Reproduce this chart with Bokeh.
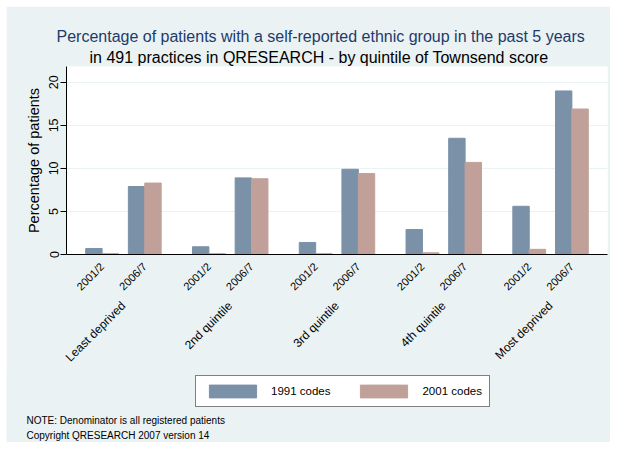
import math
from bokeh.plotting import figure
from bokeh.layouts import column
from bokeh.models import (FactorRange, Range1d, FixedTicker, Legend, LegendItem,
                          Title, Label, ColumnDataSource)
from bokeh.transform import dodge
from bokeh.embed import file_html
from bokeh.resources import INLINE

# ---- data ----
quintiles = ["Least deprived", "2nd quintile", "3rd quintile", "4th quintile", "Most deprived"]
years = ["2001/2", "2006/7"]
codes_1991 = [0.7, 7.9, 0.9, 8.9, 1.4, 9.9, 2.9, 13.5, 5.6, 19.0]
codes_2001 = [0.1, 8.3, 0.1, 8.8, 0.1, 9.4, 0.2, 10.7, 0.6, 16.9]
series_names = ["1991 codes", "2001 codes"]
y_ticks = [0, 5, 10, 15, 20]
title_1 = "Percentage of patients with a self-reported ethnic group in the past 5 years"
title_2 = "in 491 practices in QRESEARCH - by quintile of Townsend score"
y_label = "Percentage of patients"
note_1 = "NOTE: Denominator is all registered patients"
note_2 = "Copyright QRESEARCH 2007 version 14"

factors = [(q, y) for q in quintiles for y in years]
src = ColumnDataSource(dict(x=factors, c1991=codes_1991, c2001=codes_2001))

FONT = "Liberation Sans"
BG = "#eaf2f3"
BLUE = "#7b91a7"
PINK = "#c0a099"

xr = FactorRange(*factors, factor_padding=0.3, group_padding=0.955,
                 range_padding=0.586, range_padding_units="absolute")

p = figure(width=604, height=366, x_range=xr, y_range=Range1d(0, 21.84),
           output_backend="svg", toolbar_location=None,
           min_border_left=60, min_border_right=3, min_border_top=60, min_border_bottom=116,
           background_fill_color="white", border_fill_color=BG, outline_line_color=None)

r1 = p.vbar(x=dodge("x", -0.25, range=p.x_range), top="c1991", width=0.5, source=src,
            fill_color=BLUE, line_color=BLUE)
r2 = p.vbar(x=dodge("x", 0.25, range=p.x_range), top="c2001", width=0.5, source=src,
            fill_color=PINK, line_color=PINK)

# titles
t2 = Title(text=title_2, align="left", offset=23, text_font=FONT, text_font_size="16px",
           text_font_style="normal", text_color="black", standoff=2)
t1 = Title(text=title_1, align="left", offset=-10, text_font=FONT, text_font_size="16px",
           text_font_style="normal", text_color="#1f3a6b", standoff=2)
p.add_layout(t2, "above")
p.add_layout(t1, "above")

# grid
p.xgrid.grid_line_color = None
p.ygrid.ticker = FixedTicker(ticks=y_ticks)
p.ygrid.grid_line_color = BG
p.ygrid.grid_line_width = 1

# y axis
ya = p.yaxis[0]
ya.ticker = FixedTicker(ticks=y_ticks)
ya.minor_tick_line_color = None
ya.major_tick_in = 0
ya.major_tick_out = 6
ya.major_label_orientation = "vertical"
ya.major_label_standoff = 2
ya.major_label_text_font = FONT
ya.major_label_text_font_size = "12.5px"
ya.major_label_text_color = "black"
ya.axis_label = y_label
ya.axis_label_text_font = FONT
ya.axis_label_text_font_size = "14.5px"
ya.axis_label_text_font_style = "normal"
ya.axis_label_text_color = "black"
ya.axis_label_standoff = 5
ya.axis_line_color = "black"
ya.major_tick_line_color = "black"

# x axis
xa = p.xaxis[0]
xa.major_tick_line_color = None
xa.minor_tick_line_color = None
xa.axis_line_color = "black"
xa.separator_line_color = None
xa.major_label_orientation = math.pi / 4
xa.group_label_orientation = math.pi / 4
xa.major_label_text_font = FONT
xa.major_label_text_font_size = "11px"
xa.major_label_text_color = "black"
xa.major_label_standoff = 4
xa.group_text_font = FONT
xa.group_text_font_size = "12px"
xa.group_text_font_style = "normal"
xa.group_text_color = "black"

# ---- bottom strip: legend and notes ----
p2 = figure(width=604, height=71, x_range=Range1d(0, 604), y_range=Range1d(0, 71),
            output_backend="svg", toolbar_location=None,
            x_axis_location=None, y_axis_location=None,
            min_border=0, min_border_left=0, min_border_right=0, min_border_top=0,
            min_border_bottom=0, background_fill_color=BG, border_fill_color=BG,
            outline_line_color=None)
p2.grid.visible = False
p2.styles = {"margin-top": "-1px"}
for fig in (p, p2):
    if "frame_align" in fig.properties():
        fig.frame_align = False

# legend keys (zero-height bars outside the visible range)
key_src = ColumnDataSource(dict(x=[-100], top=[0]))
k1 = p2.vbar(x="x", top="top", width=1, source=key_src, fill_color=BLUE, line_color=BLUE)
k2 = p2.vbar(x="x", top="top", width=1, source=key_src, fill_color=PINK, line_color=PINK)

legend = Legend(items=[LegendItem(label=series_names[0], renderers=[k1]),
                       LegendItem(label=series_names[1], renderers=[k2])],
                orientation="horizontal", location=(189, 35),
                glyph_width=59, glyph_height=16, label_height=16, label_standoff=9,
                spacing=24, padding=7, margin=0,
                border_line_color="black", border_line_width=1,
                background_fill_color="white", background_fill_alpha=1,
                label_text_font=FONT, label_text_font_size="11.5px",
                label_text_color="black", label_text_baseline="middle")
p2.add_layout(legend, "center")

for txt, yy in [(note_1, 22), (note_2, 7)]:
    p2.add_layout(Label(x=20, y=yy, x_units="screen", y_units="screen", text=txt,
                        text_font=FONT, text_font_size="10px", text_color="black",
                        text_baseline="middle", text_align="left"))

root = column(p, p2, spacing=0,
              styles={"padding-left": "6px", "padding-top": "6px", "background-color": "white"})
open("out.html", "w").write(file_html(root, INLINE))
